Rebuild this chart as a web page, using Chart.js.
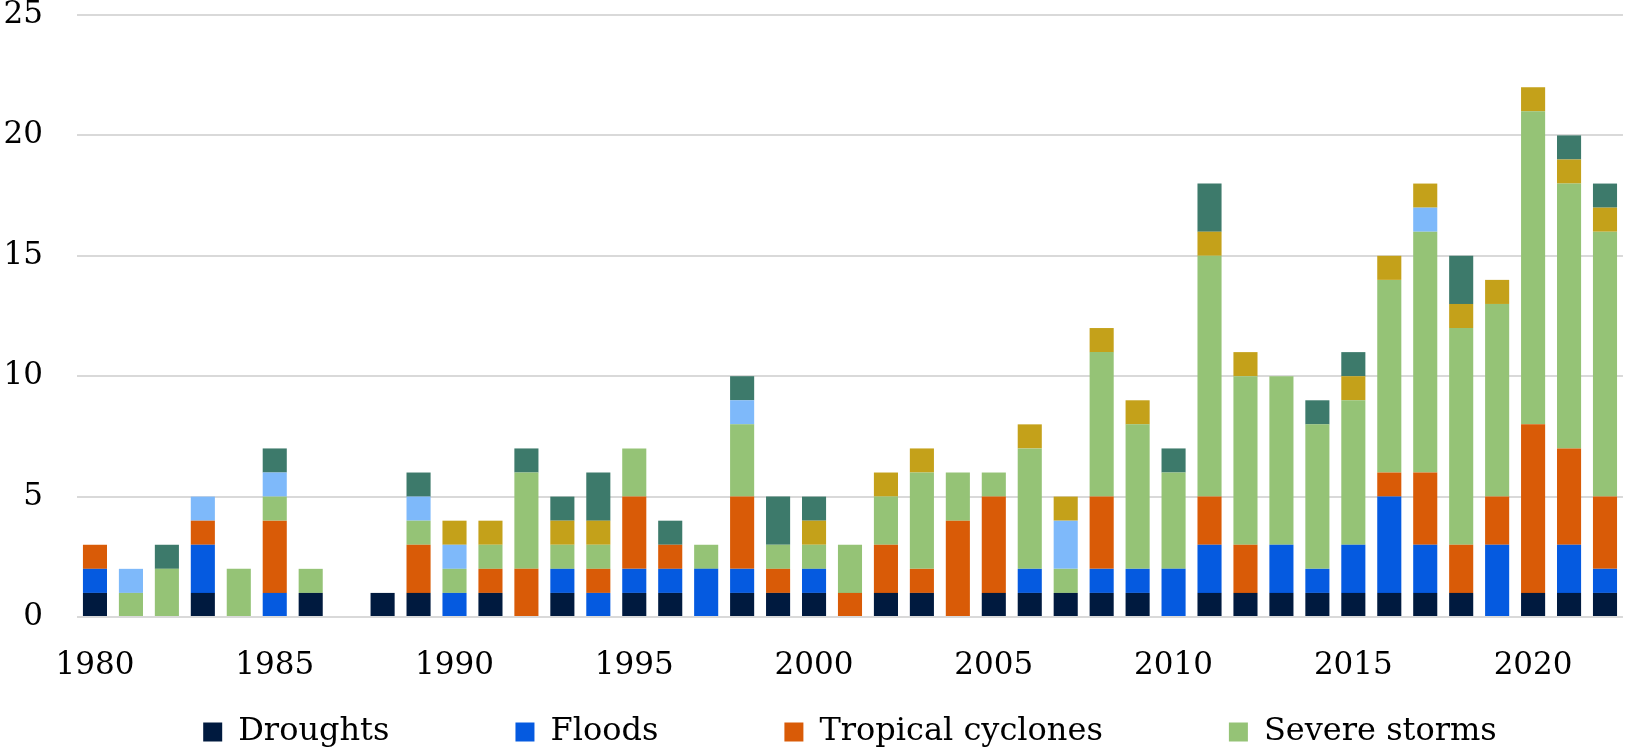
<!DOCTYPE html>
<html>
<head>
<meta charset="utf-8">
<script src="https://cdn.jsdelivr.net/npm/chart.js@4.4.0/dist/chart.umd.min.js"></script>
<style>
  body { margin: 0; background: #fff; }
  #wrap { width: 1627px; height: 749px; }
</style>
</head>
<body>
<div id="wrap"><canvas id="graphique"></canvas></div>
<script>
// Années 1980 - 2022
const annees = [];
for (let a = 1980; a <= 2022; a++) annees.push(String(a));

const droughts  = [1,0,0,1,0,0,1,0,1,1, 0,1,0,1,0,1,1,0,1,1, 1,0,1,1,0,1,1,1,1,1, 0,1,1,1,1,1,1,1,1,0, 1,1,1];
const floods    = [1,0,0,2,0,1,0,0,0,0, 1,0,0,1,1,1,1,2,1,0, 1,0,0,0,0,0,1,0,1,1, 2,2,0,2,1,2,4,2,0,3, 0,2,1];
const cyclones  = [1,0,0,1,0,3,0,0,0,2, 0,1,2,0,1,3,1,0,3,1, 0,1,2,1,4,4,0,0,3,0, 0,2,2,0,0,0,1,3,2,2, 7,4,3];
const storms    = [0,1,2,0,2,1,1,0,0,1, 1,1,4,1,1,2,0,1,3,1, 1,2,2,4,2,1,5,1,6,6, 4,10,7,7,6,6,8,10,9,8, 13,11,11];
const freezes   = [0,1,0,1,0,1,0,0,0,1, 1,0,0,0,0,0,0,0,1,0, 0,0,0,0,0,0,0,2,0,0, 0,0,0,0,0,0,0,1,0,0, 0,0,0];
const wildfires = [0,0,0,0,0,0,0,0,0,0, 1,1,0,1,1,0,0,0,0,0, 1,0,1,1,0,0,1,1,1,1, 0,1,1,0,0,1,1,1,1,1, 1,1,1];
const winter    = [0,0,1,0,0,1,0,0,0,1, 0,0,1,1,2,0,1,0,1,2, 1,0,0,0,0,0,0,0,0,0, 1,2,0,0,1,1,0,0,2,0, 0,1,1];

const yTicks = [0, 5, 10, 15, 20, 25];

const police = '"DejaVu Serif", "Liberation Serif", serif';

const series = [
  { label: 'Droughts', data: droughts, backgroundColor: '#001a3f' },
  { label: 'Floods', data: floods, backgroundColor: '#055ae0' },
  { label: 'Tropical cyclones', data: cyclones, backgroundColor: '#d95b07' },
  { label: 'Severe storms', data: storms, backgroundColor: '#95c376' },
  { label: 'Freezes', data: freezes, backgroundColor: '#7eb9fa' },
  { label: 'Wildfires', data: wildfires, backgroundColor: '#c4a11a' },
  { label: 'Winter storms', data: winter, backgroundColor: '#3d7a6b' }
];

const ESPACE = '            '; // écart entre les entrées de la légende

const ctx = document.getElementById('graphique').getContext('2d');
new Chart(ctx, {
  type: 'bar',
  data: {
    labels: annees,
    datasets: series.map(s => ({
      label: s.label,
      data: s.data,
      backgroundColor: s.backgroundColor,
      borderWidth: 0,
      barPercentage: 0.67,
      categoryPercentage: 1
    }))
  },
  options: {
    responsive: true,
    maintainAspectRatio: false,
    animation: false,
    layout: { padding: { top: 0, right: 0, bottom: 0, left: 0 } },
    plugins: {
      tooltip: { enabled: false },
      legend: {
        position: 'bottom',
        fullSize: false,
        maxHeight: 37,
        labels: {
          font: { family: police, size: 32 },
          color: '#000',
          boxWidth: 19,
          boxHeight: 19,
          padding: 4,
          generateLabels: function (chart) {
            const items = Chart.defaults.plugins.legend.labels.generateLabels(chart)
              .filter(it => it.datasetIndex < 4);
            items.forEach((it, i) => {
              it.lineWidth = 0;
              if (i < items.length - 1) it.text = it.text + ESPACE;
            });
            return items;
          }
        }
      }
    },
    scales: {
      x: {
        stacked: true,
        grid: { display: false },
        border: { display: false },
        afterFit: axis => { axis.height = 95; },
        ticks: {
          autoSkip: false,
          maxRotation: 0,
          color: '#000',
          font: { family: police, size: 31 },
          padding: 22,
          callback: function (val, i) {
            const a = Number(annees[i]);
            return a % 5 === 0 ? annees[i] : '';
          }
        }
      },
      y: {
        stacked: true,
        min: 0,
        max: 25,
        afterBuildTicks: axis => { axis.ticks = yTicks.map(v => ({ value: v })); },
        afterFit: axis => { axis.width = 77; axis.paddingTop = 15; axis.paddingBottom = 0; },
        grid: { color: '#d9d9d9', lineWidth: 2, drawTicks: false },
        border: { display: false },
        ticks: {
          color: '#000',
          font: { family: police, size: 31 },
          padding: 34
        }
      }
    }
  }
});
</script>
</body>
</html>
